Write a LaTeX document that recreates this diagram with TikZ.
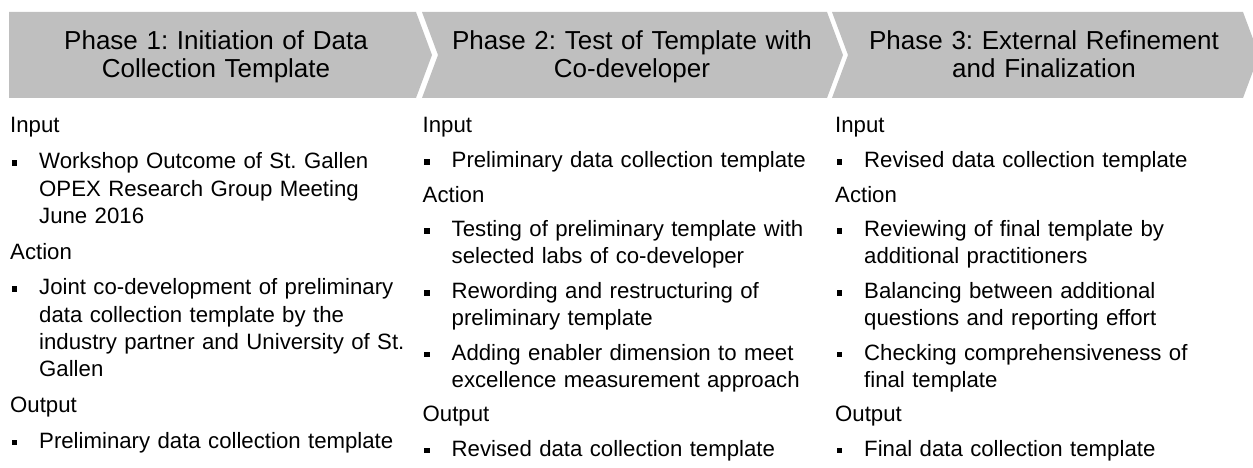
\documentclass[tikz,border=0pt]{standalone}
\usepackage{fontspec}
\setmainfont{Liberation Sans}
\frenchspacing
\definecolor{phasegray}{HTML}{BFBFBF}
\tikzset{
  phase/.style={fill=phasegray, draw=none},
  phasetext/.style={anchor=base, inner sep=0pt, text width=400pt, align=center,
    font=\fontsize{26}{28}\selectfont},
  sectiontext/.style={anchor=base west, inner sep=0pt, font=\fontsize{22.2}{27.2}\selectfont},
  itemwide/.style={anchor=base west, inner sep=0pt, text width=395pt, align=left,
    font=\fontsize{22.2}{27.2}\selectfont},
  itemtight/.style={anchor=base west, inner sep=0pt, text width=395pt, align=left,
    font=\fontsize{22.2}{27}\selectfont},
  bul/.style={fill=black, draw=none, minimum size=5.6pt, inner sep=0pt},
}
\newcommand{\bulletat}[2]{\node[bul] (#1) at ([xshift=-24.5pt,yshift=5.6pt]#2.base west) {};}
\begin{document}
\begin{tikzpicture}[x=1pt,y=-1pt]
  \useasboundingbox (0,0) rectangle (1253,468);
  \clip (0,0) rectangle (1253,468);

  % phase chevrons
  \path[phase] (9,12) -- (416,12) -- (432,55) -- (416,98) -- (9,98) -- cycle;
  \path[phase] (422,12) -- (827,12) -- (843,55) -- (827,98) -- (422,98) -- (438,55) -- cycle;
  \path[phase] (832,12) -- (1243,12) -- (1259,55) -- (1243,98) -- (832,98) -- (848,55) -- cycle;

  \node[phasetext] (p1) at (216,50) {Phase 1: Initiation of Data\\Collection Template};
  \node[phasetext] (p2) at (632,50) {Phase 2: Test of Template with\\Co-developer};
  \node[phasetext] (p3) at (1044,50) {Phase 3: External Refinement\\and Finalization};

  % phase 1
  \node[sectiontext] (a-in) at (10,133) {Input};
  \node[itemwide] (a-i1) at (39,168.8) {Workshop Outcome of St. Gallen\\OPEX Research Group Meeting\\June 2016};
  \bulletat{a-b1}{a-i1}
  \node[sectiontext] (a-act) at (10,259) {Action};
  \node[itemwide] (a-a1) at (39,294.8) {Joint co-development of preliminary\\data collection template by the\\industry partner and University of St.\\Gallen};
  \bulletat{a-b2}{a-a1}
  \node[sectiontext] (a-out) at (10,412.2) {Output};
  \node[itemwide] (a-o1) at (39,448) {Preliminary data collection template};
  \bulletat{a-b3}{a-o1}

  % phase 2
  \node[sectiontext] (b-in) at (422.5,133) {Input};
  \node[itemtight] (b-i1) at (451.5,167.6) {Preliminary data collection template};
  \bulletat{b-b1}{b-i1}
  \node[sectiontext] (b-act) at (422.5,202.2) {Action};
  \node[itemtight] (b-a1) at (451.5,236.8) {Testing of preliminary template with\\selected labs of co-developer};
  \bulletat{b-b2}{b-a1}
  \node[itemtight] (b-a2) at (451.5,298.4) {Rewording and restructuring of\\preliminary template};
  \bulletat{b-b3}{b-a2}
  \node[itemtight] (b-a3) at (451.5,360) {Adding enabler dimension to meet\\excellence measurement approach};
  \bulletat{b-b4}{b-a3}
  \node[sectiontext] (b-out) at (422.5,421.6) {Output};
  \node[itemtight] (b-o1) at (451.5,456.2) {Revised data collection template};
  \bulletat{b-b5}{b-o1}

  % phase 3
  \node[sectiontext] (c-in) at (835,133) {Input};
  \node[itemtight] (c-i1) at (864,167.6) {Revised data collection template};
  \bulletat{c-b1}{c-i1}
  \node[sectiontext] (c-act) at (835,202.2) {Action};
  \node[itemtight] (c-a1) at (864,236.8) {Reviewing of final template by\\additional practitioners};
  \bulletat{c-b2}{c-a1}
  \node[itemtight] (c-a2) at (864,298.4) {Balancing between additional\\questions and reporting effort};
  \bulletat{c-b3}{c-a2}
  \node[itemtight] (c-a3) at (864,360) {Checking comprehensiveness of\\final template};
  \bulletat{c-b4}{c-a3}
  \node[sectiontext] (c-out) at (835,421.6) {Output};
  \node[itemtight] (c-o1) at (864,456.2) {Final data collection template};
  \bulletat{c-b5}{c-o1}
\end{tikzpicture}
\end{document}
